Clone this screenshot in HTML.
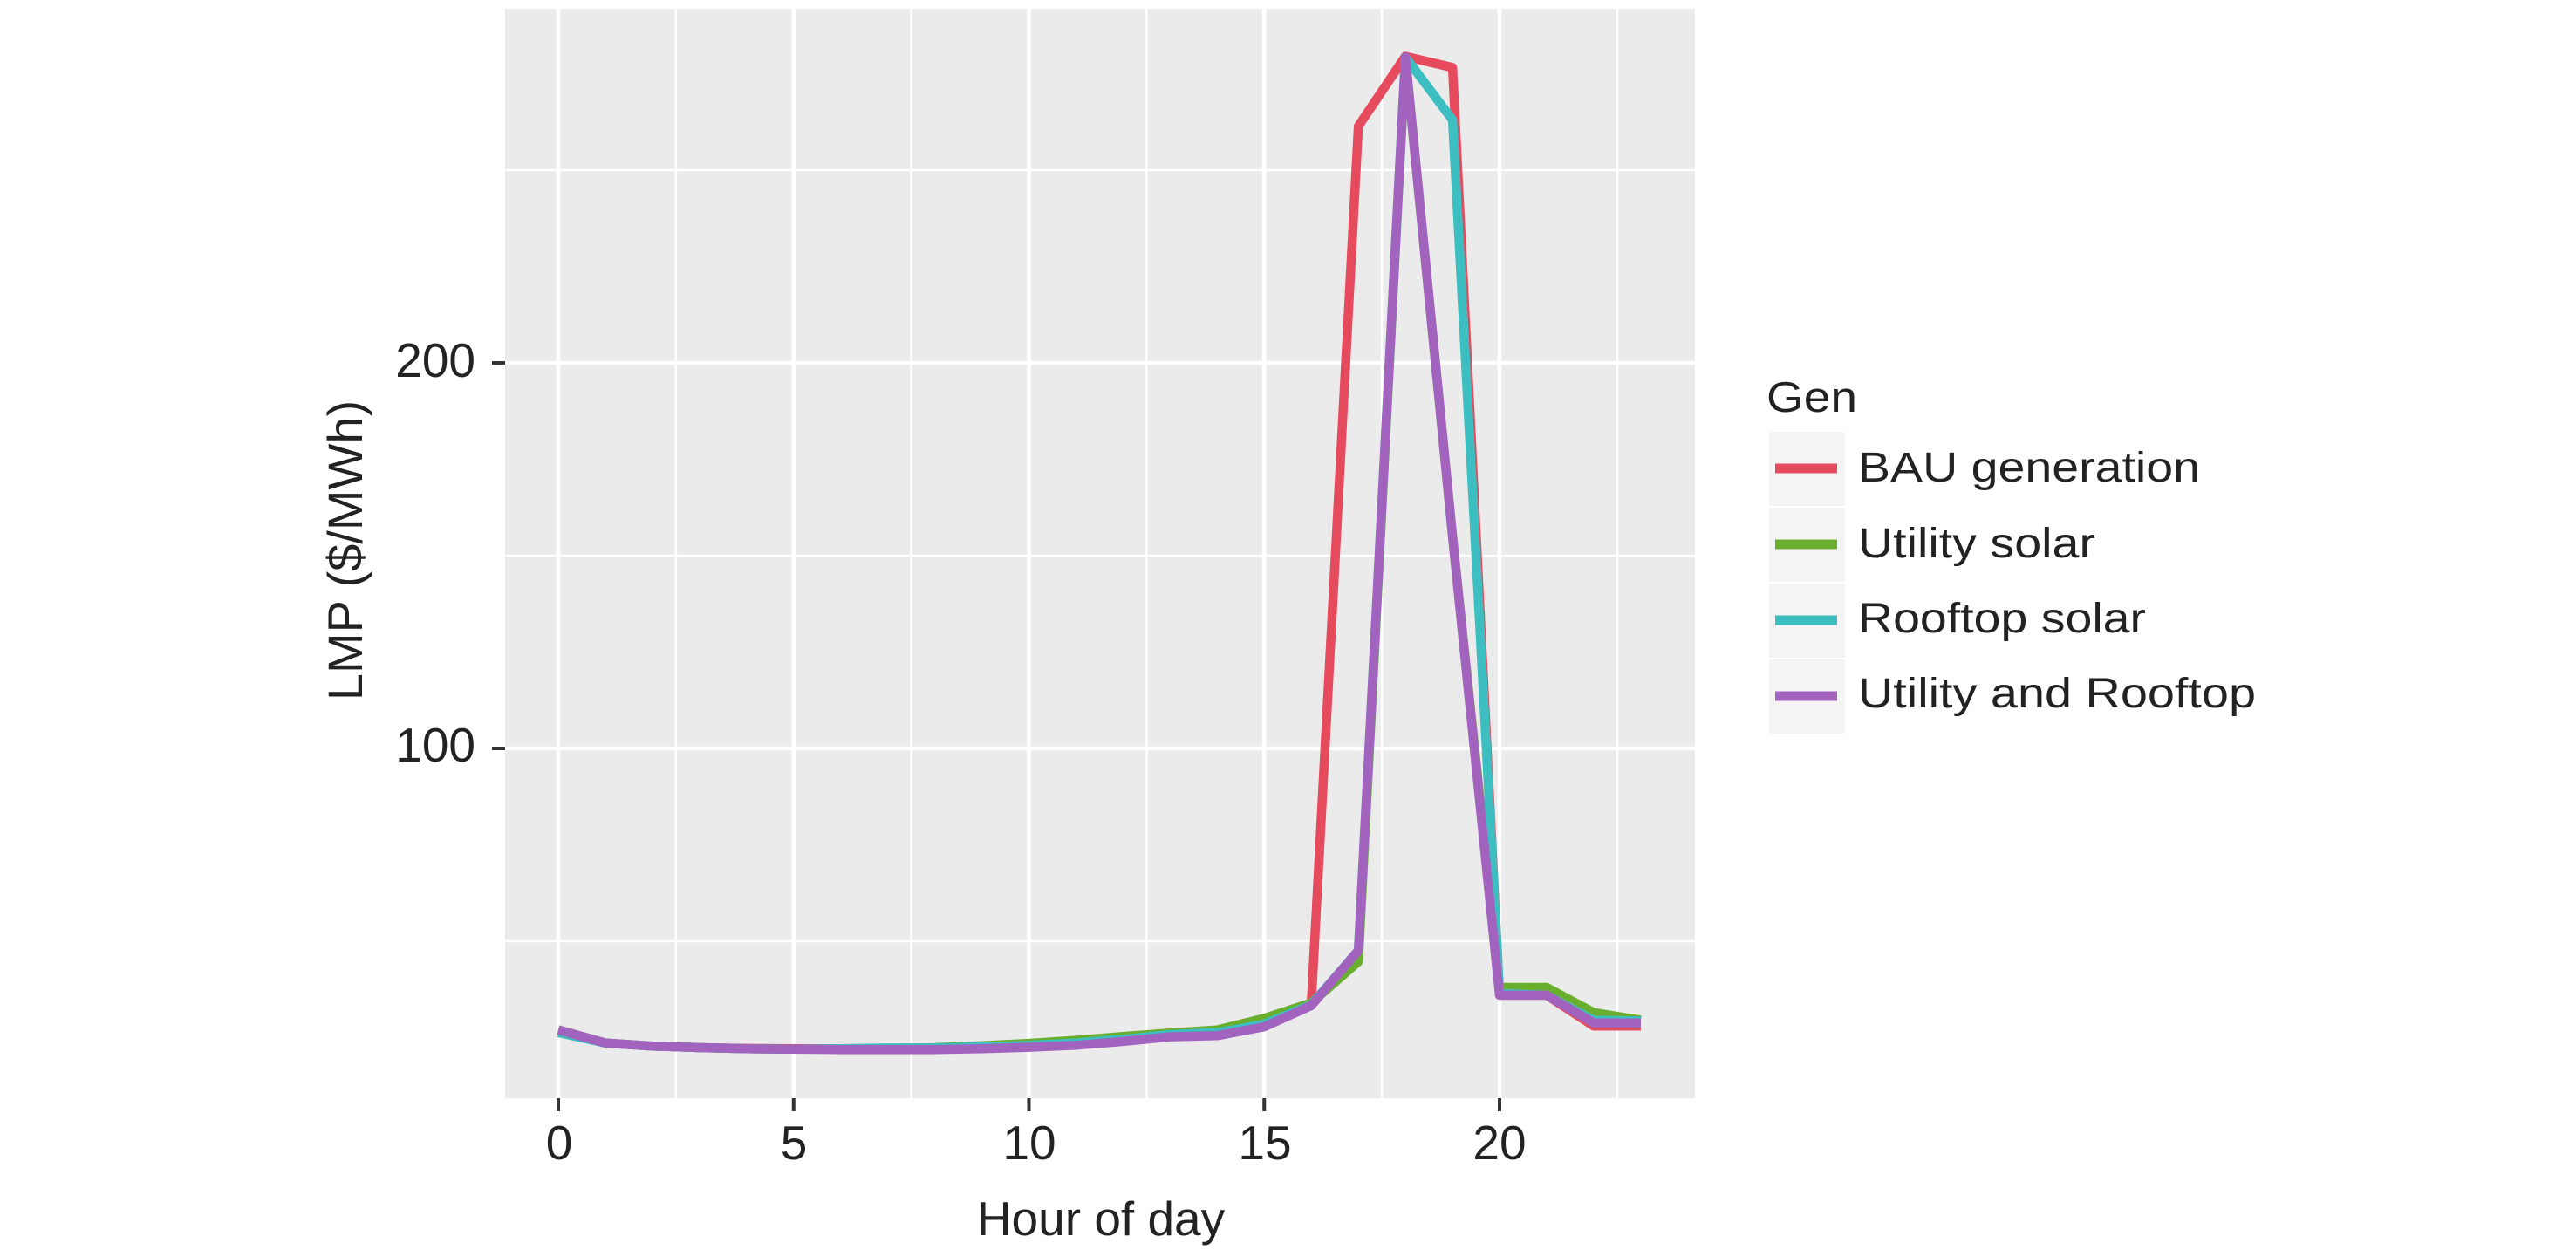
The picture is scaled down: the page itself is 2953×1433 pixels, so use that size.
<!DOCTYPE html>
<html>
<head>
<meta charset="utf-8">
<style>
  html, body { margin: 0; padding: 0; background: #ffffff; }
  body { width: 2953px; height: 1433px; overflow: hidden; }
  svg { display: block; }
  text { font-family: "Liberation Sans", Arial, sans-serif; fill: #222222; }
</style>
</head>
<body>
<svg width="2953" height="1433" viewBox="0 0 2953 1433" xmlns="http://www.w3.org/2000/svg">
  <rect x="0" y="0" width="2953" height="1433" fill="#ffffff"/>

  <!-- Panel -->
  <rect x="579" y="10" width="1364" height="1249" fill="#ebebeb"/>

  <!-- Minor gridlines -->
  <g stroke="#ffffff" stroke-width="2.6">
    <line x1="579" y1="1079" x2="1943" y2="1079"/>
    <line x1="579" y1="637" x2="1943" y2="637"/>
    <line x1="579" y1="195" x2="1943" y2="195"/>
    <line x1="774.9" y1="10" x2="774.9" y2="1259"/>
    <line x1="1044.6" y1="10" x2="1044.6" y2="1259"/>
    <line x1="1314.4" y1="10" x2="1314.4" y2="1259"/>
    <line x1="1584.1" y1="10" x2="1584.1" y2="1259"/>
    <line x1="1853.9" y1="10" x2="1853.9" y2="1259"/>
  </g>
  <!-- Major gridlines -->
  <g stroke="#ffffff" stroke-width="4.5">
    <line x1="579" y1="858" x2="1943" y2="858"/>
    <line x1="579" y1="416" x2="1943" y2="416"/>
    <line x1="640" y1="10" x2="640" y2="1259"/>
    <line x1="909.75" y1="10" x2="909.75" y2="1259"/>
    <line x1="1179.5" y1="10" x2="1179.5" y2="1259"/>
    <line x1="1449.25" y1="10" x2="1449.25" y2="1259"/>
    <line x1="1719" y1="10" x2="1719" y2="1259"/>
  </g>

  <!-- Series -->
  <g fill="none" stroke-width="10.5" stroke-linejoin="round" stroke-linecap="butt">
    <!-- BAU generation -->
    <polyline stroke="#e64a5d" points="640,1180.7 694,1195.7 747.9,1199.2 801.9,1201.0 855.8,1201.9 909.8,1202.3 963.7,1202.3 1017.7,1201.9 1071.6,1201.4 1125.6,1200.1 1179.5,1197.5 1233.5,1194.8 1287.4,1191.3 1341.4,1186.8 1395.3,1185.1 1449.3,1175.4 1503.2,1150.6 1557.2,144.6 1611.1,64.6 1665.1,77.4 1719,1140.9 1773,1140.9 1826.9,1176.2 1880.9,1176.2"/>
    <!-- Utility solar -->
    <polyline stroke="#6aae2e" points="640,1180.7 694,1195.7 747.9,1199.2 801.9,1201.0 855.8,1202.3 909.8,1202.8 963.7,1202.8 1017.7,1201.9 1071.6,1201.0 1125.6,1198.8 1179.5,1196.1 1233.5,1192.6 1287.4,1188.2 1341.4,1184.2 1395.3,1180.7 1449.3,1167.4 1503.2,1149.7 1557.2,1102.4 1611.1,65.5 1665.1,614.9 1719,1132.0 1773,1132.0 1826.9,1160.8 1880.9,1169.6"/>
    <!-- Rooftop solar -->
    <polyline stroke="#3dbfc1" points="640,1183.8 694,1195.7 747.9,1199.2 801.9,1201.0 855.8,1202.3 909.8,1202.8 963.7,1202.3 1017.7,1201.4 1071.6,1201.4 1125.6,1200.1 1179.5,1198.3 1233.5,1195.7 1287.4,1191.3 1341.4,1186.0 1395.3,1183.8 1449.3,1174.0 1503.2,1151.9 1557.2,1089.6 1611.1,65.5 1665.1,137.5 1719,1138.7 1773,1140.9 1826.9,1169.6 1880.9,1170.5"/>
    <!-- Utility and Rooftop -->
    <polyline stroke="#a263bf" points="640,1180.7 694,1195.7 747.9,1199.2 801.9,1201.0 855.8,1202.3 909.8,1202.8 963.7,1203.2 1017.7,1203.2 1071.6,1203.2 1125.6,1202.3 1179.5,1200.6 1233.5,1198.3 1287.4,1193.9 1341.4,1188.6 1395.3,1187.3 1449.3,1177.1 1503.2,1152.8 1557.2,1089.6 1611.1,65.5 1665.1,614.9 1719,1140.9 1773,1140.9 1826.9,1172.7 1880.9,1172.7"/>
  </g>

  <!-- Axis ticks -->
  <g stroke="#333333" stroke-width="4">
    <line x1="564" y1="416" x2="579" y2="416"/>
    <line x1="564" y1="858" x2="579" y2="858"/>
    <line x1="640" y1="1259" x2="640" y2="1274"/>
    <line x1="909.75" y1="1259" x2="909.75" y2="1274"/>
    <line x1="1179.5" y1="1259" x2="1179.5" y2="1274"/>
    <line x1="1449.25" y1="1259" x2="1449.25" y2="1274"/>
    <line x1="1719" y1="1259" x2="1719" y2="1274"/>
  </g>

  <!-- Y tick labels -->
  <text x="545" y="432" font-size="55" text-anchor="end">200</text>
  <text x="545" y="873" font-size="55" text-anchor="end">100</text>

  <!-- X tick labels -->
  <text x="641" y="1329" font-size="55" text-anchor="middle">0</text>
  <text x="910" y="1329" font-size="55" text-anchor="middle">5</text>
  <text x="1180" y="1329" font-size="55" text-anchor="middle">10</text>
  <text x="1450" y="1329" font-size="55" text-anchor="middle">15</text>
  <text x="1719" y="1329" font-size="55" text-anchor="middle">20</text>

  <!-- Axis titles -->
  <text x="1262" y="1416" font-size="55" text-anchor="middle">Hour of day</text>
  <text transform="translate(415,631) rotate(-90)" font-size="56" text-anchor="middle">LMP ($/MWh)</text>

  <!-- Legend -->
  <text x="2025" y="472" font-size="49" textLength="104" lengthAdjust="spacingAndGlyphs">Gen</text>
  <g fill="#f4f4f4">
    <rect x="2028" y="495" width="87" height="85"/>
    <rect x="2028" y="582" width="87" height="85"/>
    <rect x="2028" y="669" width="87" height="85"/>
    <rect x="2028" y="756" width="87" height="85"/>
  </g>
  <g stroke-width="11" stroke-linecap="butt">
    <line x1="2035" y1="537" x2="2106" y2="537" stroke="#e64a5d"/>
    <line x1="2035" y1="624" x2="2106" y2="624" stroke="#6aae2e"/>
    <line x1="2035" y1="711" x2="2106" y2="711" stroke="#3dbfc1"/>
    <line x1="2035" y1="798" x2="2106" y2="798" stroke="#a263bf"/>
  </g>
  <text x="2130" y="552" font-size="48" textLength="392" lengthAdjust="spacingAndGlyphs">BAU generation</text>
  <text x="2130" y="639" font-size="48" textLength="272" lengthAdjust="spacingAndGlyphs">Utility solar</text>
  <text x="2130" y="725" font-size="48" textLength="330" lengthAdjust="spacingAndGlyphs">Rooftop solar</text>
  <text x="2130" y="811" font-size="48" textLength="456" lengthAdjust="spacingAndGlyphs">Utility and Rooftop</text>
</svg>
</body>
</html>
